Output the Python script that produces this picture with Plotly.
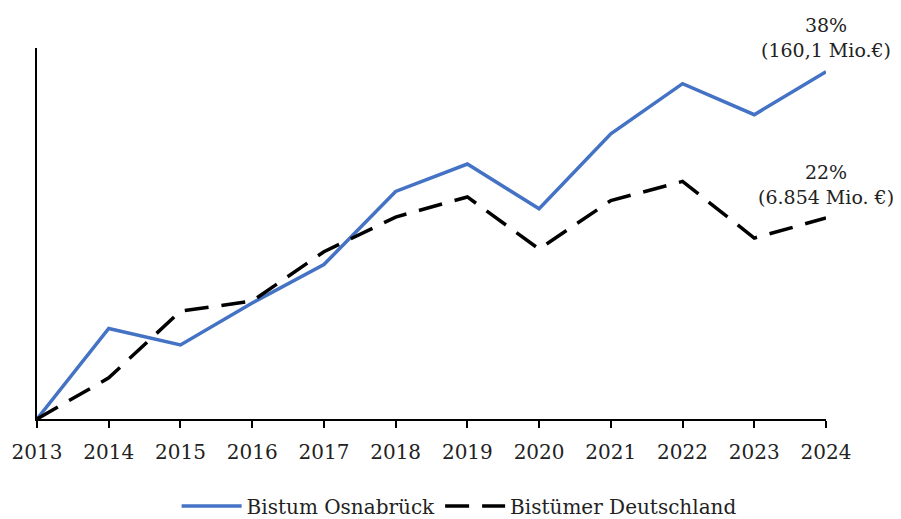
import plotly.graph_objects as go

years = [2013, 2014, 2015, 2016, 2017, 2018, 2019, 2020, 2021, 2022, 2023, 2024]
osnabrueck = [0, 9.9, 8.1, 12.7, 16.9, 24.9, 27.9, 23.0, 31.2, 36.7, 33.3, 38.0]
deutschland = [0, 4.5, 11.8, 12.9, 18.3, 22.1, 24.3, 18.6, 23.9, 26.0, 19.8, 22.0]
label_osn = "38%<br>(160,1 Mio.€)"
label_de = "22%<br>(6.854 Mio. €)"

FONT = "DejaVu Serif"
Y_MAX = 40.6

fig = go.Figure()
fig.add_trace(go.Scatter(
    x=years, y=osnabrueck, mode="lines", name="Bistum Osnabrück",
    line=dict(color="#4472C4", width=3.5), cliponaxis=False))
fig.add_trace(go.Scatter(
    x=years, y=deutschland, mode="lines", name="Bistümer Deutschland",
    line=dict(color="black", width=3.5, dash="24px,13px"), cliponaxis=False))

fig.add_annotation(x=2024, y=41.7 / Y_MAX, xref="x", yref="paper", text=label_osn,
                   showarrow=False, font=dict(family=FONT, size=19, color="#222"),
                   align="center", xanchor="center", yanchor="middle")
fig.add_annotation(x=2024, y=25.7 / Y_MAX, xref="x", yref="paper", text=label_de,
                   showarrow=False, font=dict(family=FONT, size=19, color="#222"),
                   align="center", xanchor="center", yanchor="middle")

# the page body adds an 8px offset, so the figure is 8px smaller
fig.update_layout(
    width=893, height=511,
    margin=dict(l=29, r=75, t=40, b=100, autoexpand=False),
    paper_bgcolor="white", plot_bgcolor="white",
    font=dict(family=FONT, size=20, color="#222"),
    showlegend=True,
    legend=dict(orientation="h", x=0.535, xref="paper", xanchor="center",
                y=-0.182, yanchor="top", font=dict(family=FONT, size=20),
                itemwidth=60),
    xaxis=dict(range=[2013, 2024], tickvals=years, ticktext=[str(y) for y in years],
               showgrid=False, zeroline=False, showline=True, linecolor="black",
               linewidth=1.5, ticks="outside", ticklen=7, tickcolor="black",
               tickwidth=1.5, ticklabelstandoff=7,
               tickfont=dict(family=FONT, size=20, color="#222")),
    yaxis=dict(range=[0, Y_MAX], showgrid=False, zeroline=False, showline=True,
               linecolor="black", linewidth=1.5, showticklabels=False, ticks=""),
)

fig.write_html("out.html")
